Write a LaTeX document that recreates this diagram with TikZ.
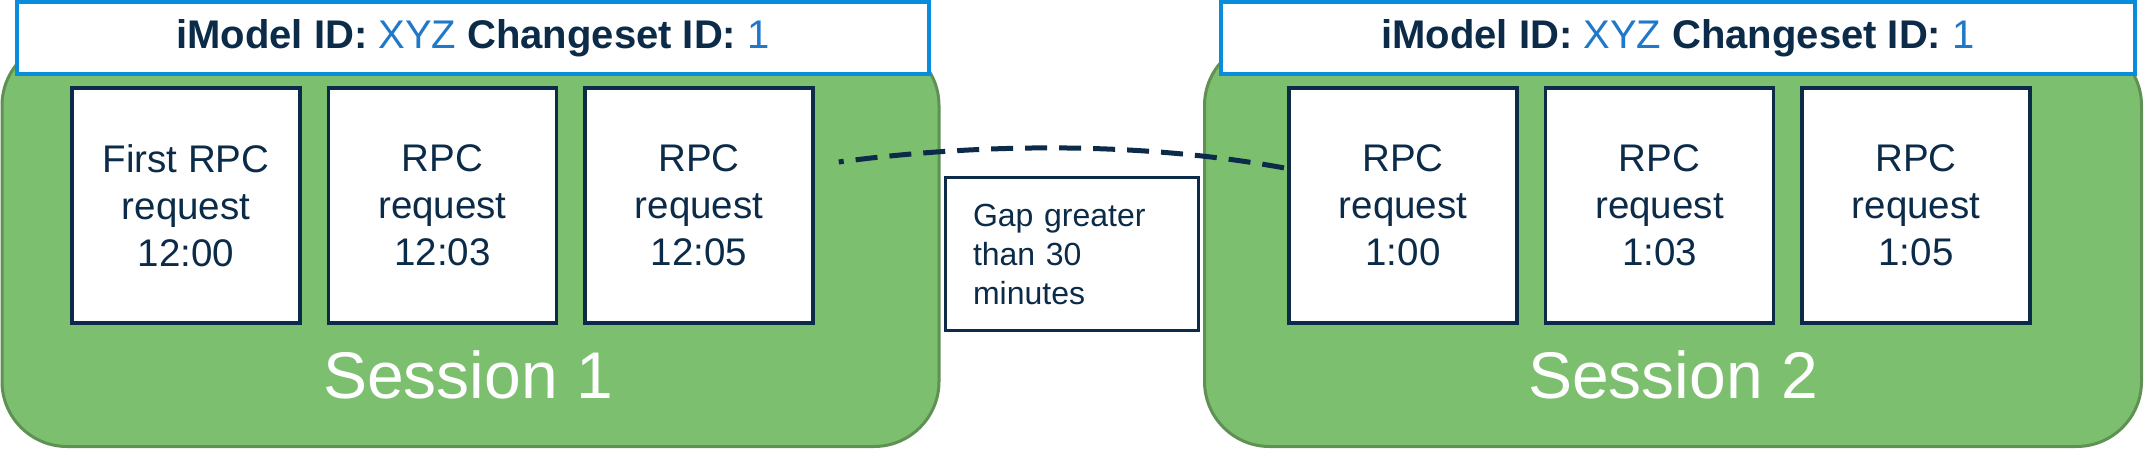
\documentclass[tikz,border=0pt]{standalone}
\usepackage{fontspec}
\setmainfont{Liberation Sans}
\usetikzlibrary{positioning}
\definecolor{sessgreen}{HTML}{7CBF6E}
\definecolor{sessedge}{HTML}{5E9153}
\definecolor{hdrblue}{HTML}{0A8CDC}
\definecolor{navy}{HTML}{0B2B48}
\definecolor{idblue}{HTML}{1F78C8}
\tikzset{
sessbox/.style={draw=sessedge,fill=sessgreen,line width=3pt,rounded corners=65pt,minimum width=937pt,minimum height=406pt,inner sep=0pt},
hdrbox/.style={draw=hdrblue,fill=white,line width=4pt,minimum height=72pt,inner sep=0pt,text=navy,font=\fontsize{40}{48}\selectfont},
rpcbox/.style={draw=navy,fill=white,line width=3.5pt,minimum width=228pt,minimum height=235pt,inner sep=0pt,align=center,text=navy,font=\fontsize{38.5}{47}\selectfont},
sesslabel/.style={text=white,font=\fontsize{66}{80}\selectfont},
gapbox/.style={draw=navy,fill=white,line width=3pt,minimum width=253pt,minimum height=152pt,text width=197pt,align=left,text=navy,font=\fontsize{32}{39}\selectfont},
gapline/.style={draw=navy,line width=5pt,dash pattern=on 22pt off 12pt,dash phase=17pt}
}
\newcommand{\idline}{\textbf{iModel ID:} \textcolor{idblue}{XYZ} \textbf{Changeset ID:} \textcolor{idblue}{1}}

\begin{document}
\begin{tikzpicture}[x=1pt,y=-1pt]
\useasboundingbox (0,0) rectangle (2145,457);

\node[sessbox] (sess1) at (470.5,243.5) {};
\node[sessbox] (sess2) at (1673,243.5) {};

\node[hdrbox,minimum width=912pt] (hdr1) at (473,38) {\idline};
\node[hdrbox,minimum width=914pt] (hdr2) at (1678,38) {\idline};

\node[rpcbox] (req1) at (186,205.5) {First RPC\\request\\12:00};
\node[rpcbox,right=25pt of req1] (req2) {RPC\\request\\12:03};
\node[rpcbox,right=25pt of req2] (req3) {RPC\\request\\12:05};

\node[rpcbox] (req4) at (1403,205.5) {RPC\\request\\1:00};
\node[rpcbox,right=25pt of req4] (req5) {RPC\\request\\1:03};
\node[rpcbox,right=25pt of req5] (req6) {RPC\\request\\1:05};

\node[sesslabel] (lab1) at (468,375) {Session 1};
\node[sesslabel] (lab2) at (1673,375) {Session 2};

\node[gapbox] (gap) at (1071.5,254) {Gap greater\\than 30\\minutes};

\coordinate (gapstart) at ([xshift=24pt,yshift=43.5pt]req3.east);
\draw[gapline] (gapstart) .. controls +(150,-20) and +(-140,-26) .. ([yshift=37pt]req4.west);

\end{tikzpicture}
\end{document}
